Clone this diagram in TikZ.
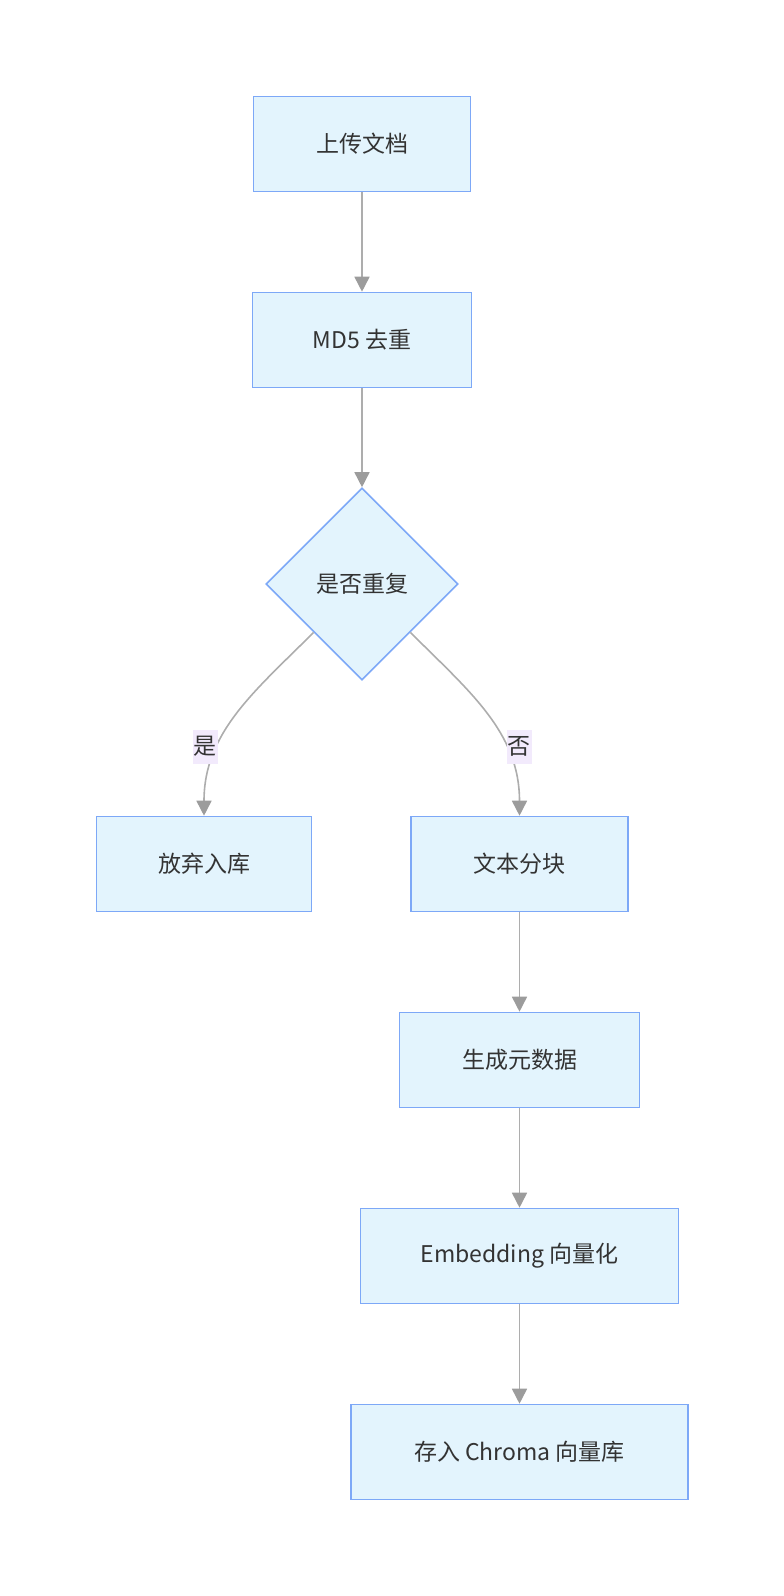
\documentclass[tikz,border=0pt]{standalone}
\usepackage{fontspec}
\setmainfont{Noto Sans CJK SC}
\usepackage{xcolor}
\usepackage{tikz}
\usetikzlibrary{shapes.geometric,arrows.meta}
\definecolor{boxfill}{HTML}{E3F4FD}
\definecolor{boxline}{HTML}{7DA8F7}
\definecolor{flowline}{HTML}{ADADAD}
\definecolor{tipfill}{HTML}{9C9C9C}
\definecolor{labelbg}{HTML}{F2EAFC}
\definecolor{textcol}{HTML}{333333}
\tikzset{
  stepbox/.style={rectangle, draw=boxline, fill=boxfill, line width=1.6pt, minimum height=95pt, text=textcol, font=\fontsize{23}{27}\selectfont},
  choice/.style={diamond, aspect=1, draw=boxline, fill=boxfill, line width=1.6pt, minimum width=192pt, minimum height=192pt, inner sep=0pt, text=textcol, font=\fontsize{23}{27}\selectfont},
  answer/.style={fill=labelbg, inner xsep=1pt, inner ysep=7pt, text=textcol, font=\fontsize{23}{27}\selectfont}
}
\begin{document}
\begin{tikzpicture}[x=1pt, y=-1pt, ->, >={Triangle[length=15pt,width=15pt,color=tipfill]}, draw=flowline, line width=1.6pt]
   \useasboundingbox (0,0) rectangle (784,1596);
   \node [stepbox, minimum width=217pt] (upload) at (362 , 144) {上传文档};
   \node [stepbox, minimum width=219pt] (dedup) at (362 , 340) {MD5 去重};
   \node [choice] (dup) at (362 , 584) {是否重复};
   \node [stepbox, minimum width=215pt] (discard) at (204 , 864) {放弃入库};
   \node [stepbox, minimum width=217pt] (chunk) at (519.5 , 864) {文本分块};
   \node [stepbox, minimum width=240pt] (meta) at (519.5 , 1060) {生成元数据};
   \node [stepbox, minimum width=318pt] (embed) at (519.5 , 1256) {Embedding 向量化};
   \node [stepbox, minimum width=337pt] (store) at (519.5 , 1452) {存入 Chroma 向量库};

   \path (upload) edge (dedup) ;
   \path (dedup) edge (dup) ;
   \path (dup.south west) edge [out=-135, in=90] node [answer, pos=0.68, xshift=-13pt] {是} (discard) ;
   \path (dup.south east) edge [out=-45, in=90] node [answer, pos=0.68, xshift=14pt] {否} (chunk) ;
   \path (chunk) edge (meta) ;
   \path (meta) edge (embed) ;
   \path (embed) edge (store) ;
\end{tikzpicture}
\end{document}
